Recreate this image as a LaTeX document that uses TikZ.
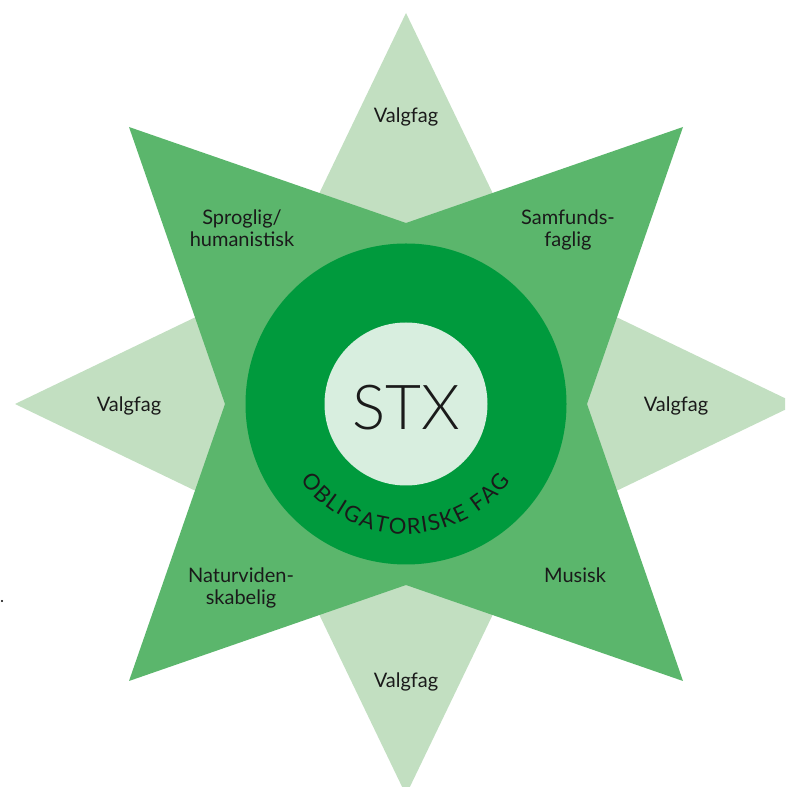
\documentclass[tikz,border=0pt]{standalone}
\usepackage{fontspec}
\setmainfont{Lato}
\newfontfamily\stxfont{Lato Light}
\usetikzlibrary{calc}
\definecolor{lightG}{HTML}{C2DFC1}
\definecolor{midG}{HTML}{5BB66C}
\definecolor{darkG}{HTML}{009A3D}
\definecolor{paleG}{HTML}{D8EEDF}
\definecolor{ink}{HTML}{1A1A1A}
\begin{document}
\begin{tikzpicture}[x=1pt,y=1pt,
  lbl/.style={font=\fontsize{20}{22}\selectfont, align=center, text=ink, inner sep=0pt, anchor=base},
  obl/.style={font=\fontsize{22}{22}\selectfont, text=ink, inner sep=0pt, anchor=base}]
\clip (0,0) rectangle (785,787);
\coordinate (C) at (406,383);
% light four-point star
\fill[lightG] (406,774) -- (533,510) -- (797,383) -- (533,256) -- (406,-8) -- (279,256) -- (15,383) -- (279,510) -- cycle;
% mid green diagonal star
\fill[midG] (129,660) -- (406,564) -- (683,660) -- (587,383) -- (683,106) -- (406,202) -- (129,106) -- (225,383) -- cycle;
% circles
\fill[darkG] (C) circle (160.5);
\fill[paleG] (C) circle (81.5);
% centre text
\node[font=\stxfont\fontsize{62}{62}\selectfont, text=ink, inner sep=0pt, anchor=base] (stx) at (406,357) {STX};
% curved text, letter by letter (letter / advance width in pt)
\xdef\oblacc{-8.6}
\foreach \ch/\w [count=\i] in {O/17.2,B/14.1,L/11.0,I/5.9,G/16.3,A/15.0,T/13.0,O/17.2,R/13.4,I/5.9,S/11.4,K/14.3,E/12.5,{\ }/5.7,F/12.1,A/15.0,G/16.3} {
  \pgfmathsetmacro\ang{219.8 + (\oblacc + 0.5*\w)/130*180/pi}
  \node[obl, rotate=\ang+90] (obl\i) at ($(C)+(\ang:130)$) {\ch};
  \pgfmathparse{\oblacc + \w + 1.78}
  \xdef\oblacc{\pgfmathresult}
}
% labels
\node[lbl] (vtop) at (406,664) {Valgfag};
\node[lbl] (vleft) at (129,375) {Valgfag};
\node[lbl] (vright) at (676,375) {Valgfag};
\node[lbl] (vbot) at (406,99) {Valgfag};
\node[lbl] (sprog) at (242,540) {Sproglig/\\humanistisk};
\node[lbl] (samf) at (568,540) {Samfunds-\\faglig};
\node[lbl] (natur) at (241,182) {Naturviden-\\skabelig};
\node[lbl] (musisk) at (575,204) {Musisk};
\node[circle, fill=black, inner sep=0pt, minimum size=2.4pt] (dot) at (2,186) {};
\end{tikzpicture}
\end{document}
